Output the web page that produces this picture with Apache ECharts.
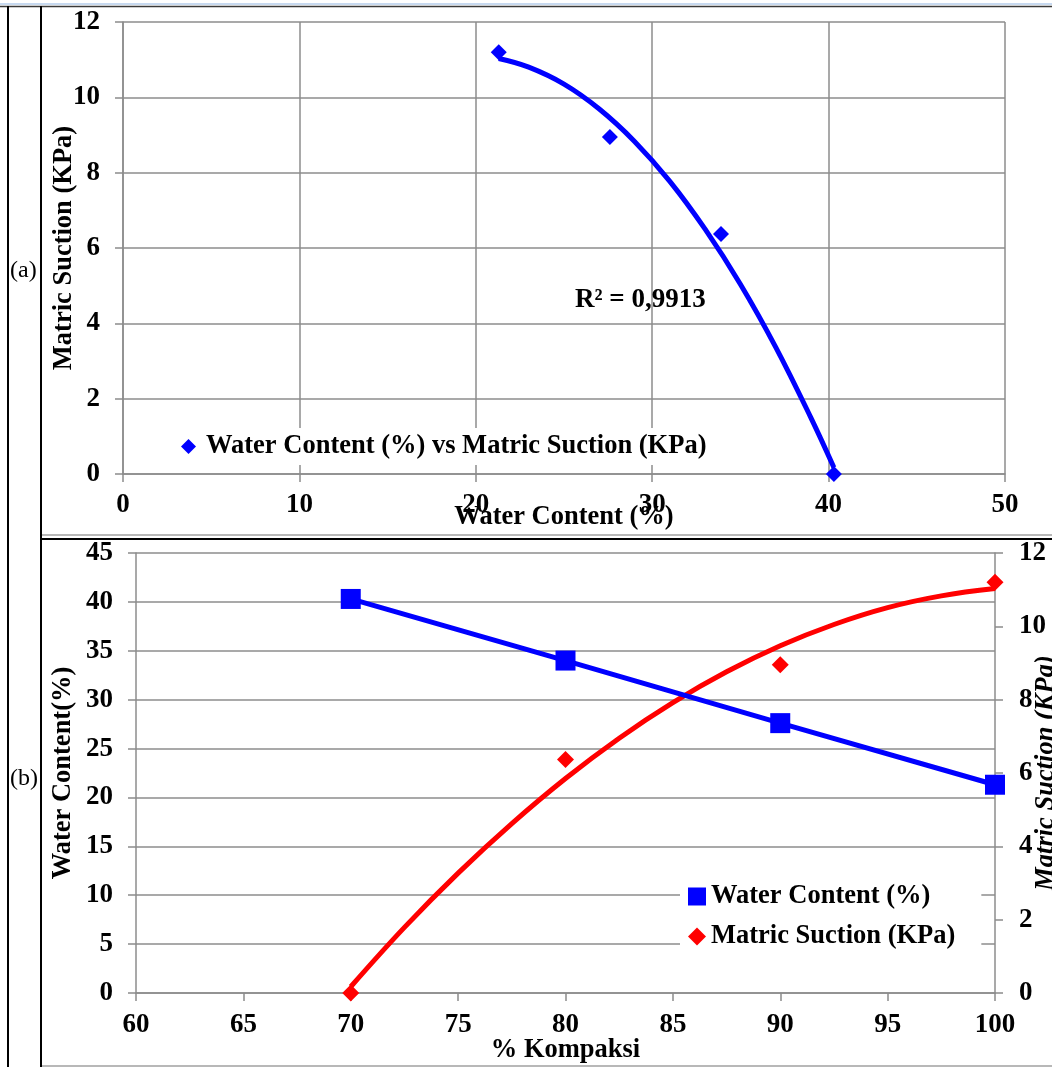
<!DOCTYPE html>
<html>
<head>
<meta charset="utf-8">
<script src="https://cdn.jsdelivr.net/npm/echarts@6/dist/echarts.min.js"></script>
<style>
  html, body { margin: 0; padding: 0; background: #fff; }
  #chart { width: 1052px; height: 1067px; }
</style>
</head>
<body>
<div id="chart"></div>
<script>
// (a) measured points: water content (%) vs matric suction (KPa)
const waterContentA = [21.3, 27.6, 33.9, 40.3];
const matricSuctionA = [11.2, 8.95, 6.37, 0];
// (a) polynomial trend curve, sampled along the fitted line
const trendAx = [21.3, 23, 25, 27, 29, 31, 33, 35, 37, 39, 40.3];
const trendAy = [11.03, 10.80, 10.35, 9.69, 8.83, 7.77, 6.50, 5.04, 3.37, 1.49, 0.17];
const r2Label = 'R² = 0,9913';

// (b) compaction level vs water content and matric suction
const kompaksi = [70, 80, 90, 100];
const waterContentB = [40.3, 34.0, 27.6, 21.3];
const matricSuctionB = [0, 6.37, 8.95, 11.2];
// (b) polynomial trend curve for matric suction
const trendBx = [70, 72.5, 75, 77.5, 80, 82.5, 85, 87.5, 90, 92.5, 95, 97.5, 100];
const trendBy = [0.17, 1.79, 3.27, 4.62, 5.85, 6.95, 7.92, 8.76, 9.47, 10.05, 10.51, 10.83, 11.03];

const FONT = '"Liberation Serif", "Times New Roman", serif';
const GRID_GRAY = '#8c8c8c';
const BLUE = '#0000ff';
const RED = '#ff0000';

const zip = (xs, ys) => xs.map((x, i) => [x, ys[i]]);

const textBase = { fontFamily: FONT, fontWeight: 'bold', fontSize: 26.5, color: '#000' };
const tickText = Object.assign({}, textBase, { fontSize: 27 });

function valueAxis(extra) {
  return Object.assign({
    type: 'value',
    axisLine: { show: true, lineStyle: { color: GRID_GRAY, width: 1.5 } },
    axisTick: { show: true, length: 8, lineStyle: { color: GRID_GRAY, width: 1.5 } },
    splitLine: { show: true, lineStyle: { color: GRID_GRAY, width: 1.5 } },
    axisLabel: Object.assign({}, tickText),
    nameTextStyle: Object.assign({}, textBase),
    nameLocation: 'middle',
    nameMoveOverlap: false
  }, extra);
}

const chart = echarts.init(document.getElementById('chart'), null, { renderer: 'canvas' });

chart.setOption({
  backgroundColor: '#fff',
  animation: false,
  grid: [
    { left: 123, right: 47, top: 22, bottom: 593, containLabel: false, outerBoundsMode: 'none' },
    { left: 136, right: 57, top: 553, bottom: 74, containLabel: false, outerBoundsMode: 'none' }
  ],
  xAxis: [
    valueAxis({
      gridIndex: 0, min: 0, max: 50, interval: 10,
      name: 'Water Content (%)', nameGap: 30,
      axisLabel: Object.assign({}, tickText, { margin: 18 })
    }),
    valueAxis({
      gridIndex: 1, min: 60, max: 100, interval: 5,
      name: '% Kompaksi', nameGap: 44,
      splitLine: { show: false },
      axisLabel: Object.assign({}, tickText, { margin: 19 })
    })
  ],
  yAxis: [
    valueAxis({
      gridIndex: 0, min: 0, max: 12, interval: 2,
      name: 'Matric Suction (KPa)', nameGap: 45,
      axisLabel: Object.assign({}, tickText, { margin: 23 })
    }),
    valueAxis({
      gridIndex: 1, min: 0, max: 45, interval: 5,
      name: 'Water Content(%)', nameGap: 59,
      axisLabel: Object.assign({}, tickText, { margin: 23 })
    }),
    valueAxis({
      gridIndex: 1, min: 0, max: 12, interval: 2, position: 'right',
      name: 'Matric Suction (KPa)', nameGap: 38,
      splitLine: { show: false },
      nameTextStyle: Object.assign({}, textBase, { fontStyle: 'italic' }),
      axisLabel: Object.assign({}, tickText, { margin: 24 })
    })
  ],
  legend: [
    {
      left: 175, top: 428, orient: 'horizontal',
      backgroundColor: '#fff',
      padding: [5, 8, 5, 6],
      itemWidth: 15, itemHeight: 15,
      textStyle: Object.assign({}, textBase, { padding: [0, 0, 0, 5] }),
      data: [{ name: 'Water Content (%) vs Matric Suction (KPa)', icon: 'diamond' }]
    },
    {
      left: 680, top: 866, orient: 'vertical',
      backgroundColor: '#fff',
      padding: [17, 26, 16, 8],
      itemGap: 13,
      itemWidth: 18, itemHeight: 18,
      textStyle: Object.assign({}, textBase),
      data: [
        { name: 'Water Content (%)', icon: 'rect' },
        { name: 'Matric Suction (KPa)', icon: 'diamond' }
      ]
    }
  ],
  series: [
    {
      type: 'line', xAxisIndex: 0, yAxisIndex: 0,
      data: zip(trendAx, trendAy), smooth: 0.4,
      showSymbol: false, symbol: 'none',
      lineStyle: { color: BLUE, width: 5 }, z: 2, silent: true
    },
    {
      name: 'Water Content (%) vs Matric Suction (KPa)',
      type: 'scatter', xAxisIndex: 0, yAxisIndex: 0,
      data: zip(waterContentA, matricSuctionA),
      symbol: 'diamond', symbolSize: 16,
      itemStyle: { color: BLUE, opacity: 1 }, z: 3
    },
    {
      name: 'Water Content (%)',
      type: 'line', xAxisIndex: 1, yAxisIndex: 1,
      data: zip(kompaksi, waterContentB),
      symbol: 'rect', symbolSize: 20, showAllSymbol: true,
      lineStyle: { color: BLUE, width: 5 },
      itemStyle: { color: BLUE, opacity: 1 }, z: 3
    },
    {
      type: 'line', xAxisIndex: 1, yAxisIndex: 2,
      data: zip(trendBx, trendBy), smooth: 0.4,
      showSymbol: false, symbol: 'none',
      lineStyle: { color: RED, width: 5 }, z: 2, silent: true
    },
    {
      name: 'Matric Suction (KPa)',
      type: 'scatter', xAxisIndex: 1, yAxisIndex: 2,
      data: zip(kompaksi, matricSuctionB),
      symbol: 'diamond', symbolSize: 17,
      itemStyle: { color: RED, opacity: 1 }, z: 4
    }
  ],
  graphic: [
    // page frame: header rule and table lines
    { type: 'line', shape: { x1: 0, y1: 4, x2: 1052, y2: 4 }, style: { stroke: '#8fb3e0', lineWidth: 1 }, z: 10 },
    { type: 'line', shape: { x1: 0, y1: 6.5, x2: 1052, y2: 6.5 }, style: { stroke: '#3a3a3a', lineWidth: 1.5 }, z: 10 },
    { type: 'line', shape: { x1: 8, y1: 6, x2: 8, y2: 1067 }, style: { stroke: '#000', lineWidth: 2 }, z: 10 },
    { type: 'line', shape: { x1: 41, y1: 6, x2: 41, y2: 1067 }, style: { stroke: '#000', lineWidth: 2 }, z: 10 },
    { type: 'line', shape: { x1: 42, y1: 535, x2: 1052, y2: 535 }, style: { stroke: '#a0a0a0', lineWidth: 1.5 }, z: 10 },
    { type: 'line', shape: { x1: 41, y1: 539, x2: 1052, y2: 539 }, style: { stroke: '#000', lineWidth: 2 }, z: 10 },
    { type: 'line', shape: { x1: 42, y1: 1066, x2: 1052, y2: 1066 }, style: { stroke: '#a0a0a0', lineWidth: 1.5 }, z: 10 },
    // panel labels
    { type: 'text', left: 10, top: 259, style: { text: '(a)', font: '24px ' + FONT, fill: '#000' } },
    { type: 'text', left: 10, top: 767, style: { text: '(b)', font: '24px ' + FONT, fill: '#000' } },
    // goodness of fit for the trend curve in (a)
    { type: 'text', left: 575, top: 287, style: { text: r2Label, font: 'bold 27px ' + FONT, fill: '#000' }, z: 5 }
  ]
});
</script>
</body>
</html>
